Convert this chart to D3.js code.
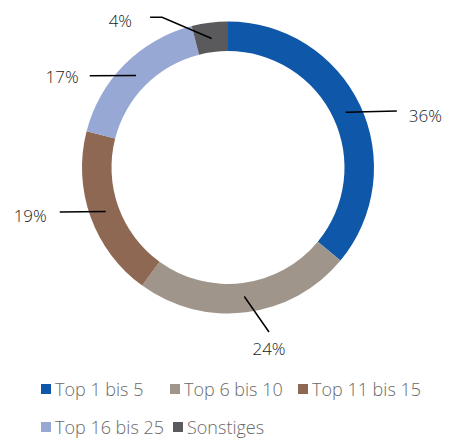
<!DOCTYPE html>
<html lang="de">
<head>
  <meta charset="utf-8">
  <title>Anteile</title>
  <script src="https://d3js.org/d3.v7.min.js"></script>
  <style>
    body { margin: 0; background: #fff; }
    text { font-family: "Open Sans", "Noto Sans", sans-serif; font-weight: 300; }
    .lbl { font-size: 17px; fill: #1a1a1a; }
    .leg { font-size: 18px; fill: #6a6a6a; }
  </style>
</head>
<body>
  <svg width="452" height="441"></svg>
  <script>
    // data
    var categories = ["Top 1 bis 5", "Top 6 bis 10", "Top 11 bis 15", "Top 16 bis 25", "Sonstiges"];
    var values = [36, 24, 19, 17, 4];
    var colors = ["#0f57a8", "#a0958a", "#8e6852", "#97a8d5", "#5a5a5c"];

    // wo die Beschriftungen sitzen (Winkel ab oben im Uhrzeigersinn, Radius)
    var labelAngle = [71.5, 166, 255.2, 303.6, 336.3];
    var labelRadius = [178, 169.5, 174, 166, 164];
    var labelTail = [0, 0, 0, 0, 12];
    var labelAnchor = ["start", "middle", "end", "end", "end"];
    var labelDx = [12, 0, -13, -11, -18];
    var labelDy = [10.5, 23, 9.7, 7, 10];

    // legende: zeilen / spalten
    var legendX = [41, 170, 298, 41, 173];
    var legendY = [384, 384, 384, 422, 422];

    var svg = d3.select("svg"),
      cx = 228, cy = 167.5,
      outerR = 146, innerR = 116.5;

    var g = svg.append("g").attr("transform", "translate(" + cx + "," + cy + ")");

    var pie = d3.pie().sort(null).value(d => d);
    var arcs = pie(values);

    var arc = d3.arc().innerRadius(innerR).outerRadius(outerR);

    g.selectAll("path")
      .data(arcs)
      .enter()
      .append("path")
        .attr("d", arc)
        .attr("fill", (d, i) => colors[i]);

    // Fuehrungslinien
    function polar(deg, r) {
      var a = deg * Math.PI / 180;
      return [r * Math.sin(a), -r * Math.cos(a)];
    }

    arcs.forEach(function(d, i) {
      var mid = (d.startAngle + d.endAngle) / 2 * 180 / Math.PI;
      var p0 = polar(mid, 130);
      var p1 = polar(labelAngle[i], labelRadius[i]);
      var pts = [p0, p1];
      var dir = labelAnchor[i] == "end" ? -1 : 1;
      var last = p1;
      if (labelTail[i] > 0) {
        last = [p1[0] + dir * labelTail[i], p1[1]];
        pts.push(last);
      }
      g.append("path")
        .attr("d", d3.line()(pts))
        .attr("fill", "none")
        .attr("stroke", "#000")
        .attr("stroke-width", 1.5);

      g.append("text")
        .attr("class", "lbl")
        .attr("x", last[0] + labelDx[i])
        .attr("y", last[1] + labelDy[i])
        .attr("text-anchor", labelAnchor[i])
        .text(values[i] + "%");
    });

    // Legende
    var leg = svg.selectAll(".legitem")
      .data(categories)
      .enter()
      .append("g")
        .attr("class", "legitem")
        .attr("transform", (d, i) => "translate(" + legendX[i] + "," + legendY[i] + ")");

    leg.append("rect")
      .attr("width", 10)
      .attr("height", 10)
      .attr("fill", (d, i) => colors[i]);

    leg.append("text")
      .attr("class", "leg")
      .attr("x", 14)
      .attr("y", 12)
      .text(d => d);
  </script>
</body>
</html>
